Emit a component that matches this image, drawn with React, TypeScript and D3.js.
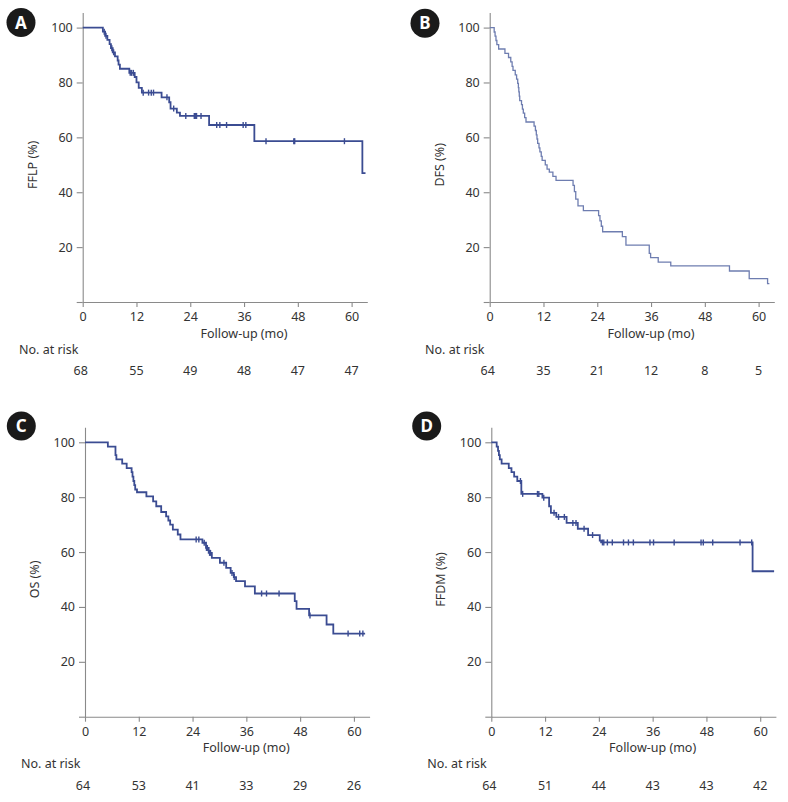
import { useEffect, useRef } from 'react'
import * as d3 from 'd3'

// axis ticks
const monthTicks = [0, 12, 24, 36, 48, 60]
const pctTicks = [0, 20, 40, 60, 80, 100]

// A: freedom from local progression
const fflpTimes = [0, 4.5, 5.0, 5.5, 6.0, 6.3, 6.7, 7.2, 7.8, 8.0, 8.3, 10.4, 11.6, 12.0, 12.5, 13.2, 17.6, 19.3, 19.6, 21.0, 21.7, 28.2, 38.3, 62.4]
const fflpSurv = [100, 98.5, 97.0, 95.5, 94.0, 92.5, 91.0, 89.5, 88.0, 86.5, 85.0, 83.5, 82.0, 80.0, 78.0, 76.3, 74.6, 72.8, 70.5, 69.0, 67.8, 64.5, 58.6, 47.0]
const fflpCensor = [4.8, 5.2, 6.5, 6.9, 10.6, 10.9, 11.3, 13.5, 14.7, 15.3, 15.8, 18.8, 20.3, 23.0, 24.9, 25.2, 25.4, 26.4, 29.9, 30.6, 32.1, 35.8, 36.4, 40.9, 47.1, 47.3, 58.4]
const fflpEnd = 63.1
const fflpRisk = [68, 55, 49, 48, 47, 47]

// B: disease-free survival
const dfsTimes = [0, 1.0, 1.2, 1.4, 1.6, 2.0, 3.4, 4.2, 4.7, 5.0, 5.2, 5.7, 6.0, 6.25, 6.4, 6.5, 6.6, 6.7, 7.1, 7.3, 7.5, 7.8, 8.1, 9.9, 10.2, 10.4, 10.55, 10.7, 11.0, 11.2, 11.5, 11.7, 12.4, 12.8, 13.3, 14.1, 14.8, 18.6, 18.9, 19.2, 19.7, 20.9, 24.3, 24.6, 24.9, 25.2, 29.6, 30.4, 35.6, 35.9, 37.6, 40.4, 53.5, 57.9, 62.0]
const dfsSurv = [100, 98.4, 96.9, 95.3, 93.8, 92.2, 90.6, 89.1, 87.5, 85.9, 84.4, 82.8, 81.2, 79.7, 78.1, 76.6, 75.0, 73.4, 71.9, 70.3, 68.8, 67.2, 65.6, 64.1, 62.5, 60.9, 59.4, 57.8, 56.2, 54.7, 53.1, 51.6, 50.0, 48.4, 47.3, 45.8, 44.3, 42.5, 40.2, 37.5, 35.0, 33.3, 31.5, 29.6, 27.6, 25.6, 23.8, 20.7, 17.7, 16.2, 14.5, 13.2, 11.3, 8.5, 6.7]
const dfsCensor: number[] = []
const dfsEnd = 62.4
const dfsRisk = [64, 35, 21, 12, 8, 5]

// C: overall survival
const osTimes = [0, 5.1, 6.8, 7.0, 8.3, 9.3, 10.4, 10.6, 10.8, 11.0, 11.2, 11.6, 13.7, 15.2, 15.9, 17.0, 18.1, 18.6, 19.0, 19.6, 20.7, 21.3, 26.2, 27.0, 27.6, 28.3, 30.1, 31.5, 32.5, 33.2, 33.7, 35.7, 37.9, 46.8, 47.2, 50.0, 53.9, 55.4]
const osSurv = [100, 98.4, 95.3, 93.8, 92.2, 90.6, 89.1, 87.5, 85.9, 84.4, 82.8, 81.8, 80.3, 78.5, 76.7, 74.6, 73.0, 71.5, 70.0, 68.2, 66.4, 64.6, 63.4, 61.5, 59.7, 57.9, 56.1, 54.2, 52.4, 50.9, 49.4, 47.5, 44.9, 42.1, 39.3, 36.9, 33.6, 30.3]
const osCensor = [24.8, 25.4, 26.6, 27.1, 27.3, 27.8, 28.0, 31.0, 32.8, 33.3, 39.4, 40.5, 43.3, 50.2, 58.7, 61.3, 62.0]
const osEnd = 62.5
const osRisk = [64, 53, 41, 33, 29, 26]

// D: freedom from distant metastasis
const ffdmTimes = [0, 1.2, 1.5, 1.7, 1.9, 2.3, 3.9, 4.5, 5.1, 5.8, 6.7, 11.4, 12.9, 13.3, 14.5, 16.8, 19.3, 21.6, 24.2, 24.5, 58.3]
const ffdmSurv = [100, 98.4, 96.9, 95.3, 93.8, 92.2, 90.6, 89.1, 87.5, 85.9, 81.2, 79.8, 76.7, 74.3, 72.8, 70.6, 68.5, 66.2, 64.2, 63.5, 53.0]
const ffdmCensor = [6.5, 7.0, 10.3, 10.6, 11.7, 14.0, 15.0, 16.3, 18.2, 18.9, 20.7, 22.6, 24.8, 25.1, 25.9, 27.0, 29.5, 30.6, 31.7, 35.4, 36.2, 40.8, 46.8, 47.3, 49.4, 55.5, 58.1]
const ffdmEnd = 63.1
const ffdmRisk = [64, 51, 44, 43, 43, 42]

const FONT = '"Noto Sans", Roboto, sans-serif'
const TEXT = '#333'
const AXIS = '#8a8a8a'

type PanelProps = {
  letter: string
  yLabel: string
  times: number[]
  surv: number[]
  censor: number[]
  end: number
  risk: number[]
  left: number
  bottom: number
  badge: [number, number]
  riskLabelX: number
  color: string
  lineWidth: number
}

function Panel(p: PanelProps) {
  const ref = useRef<SVGGElement>(null)

  useEffect(() => {
    if (!ref.current) return
    const g = d3.select(ref.current)
    g.selectAll('*').remove()

    const x = d3.scaleLinear().domain([0, 63.5]).range([p.left, p.left + 284.6])
    const y = d3.scaleLinear().domain([0, 105.5]).range([p.bottom, p.bottom - 289.5])

    // axes
    const xAxis = g
      .append('g')
      .attr('transform', `translate(0,${p.bottom})`)
      .call(d3.axisBottom(x).tickValues(monthTicks).tickSize(5).tickSizeOuter(0).tickPadding(5))
    const yAxis = g
      .append('g')
      .attr('transform', `translate(${p.left},0)`)
      .call(
        d3
          .axisLeft(y)
          .tickValues(pctTicks)
          .tickSize(6)
          .tickSizeOuter(0)
          .tickPadding(4)
          .tickFormat(d => (d === 0 ? '' : String(d)))
      )
    ;[xAxis, yAxis].forEach(a => {
      a.selectAll('path, line').attr('stroke', AXIS).attr('stroke-width', 1.1)
      a.selectAll('text').attr('fill', TEXT).style('font-family', FONT).style('font-size', '12.5px')
    })

    // survival curve
    const pts: [number, number][] = p.times.map((t, i) => [t, p.surv[i]])
    pts.push([p.end, p.surv[p.surv.length - 1]])
    const line = d3
      .line<[number, number]>()
      .x(d => x(d[0]))
      .y(d => y(d[1]))
      .curve(d3.curveStepAfter)
    g.append('path')
      .datum(pts)
      .attr('fill', 'none')
      .attr('stroke', p.color)
      .attr('stroke-width', p.lineWidth)
      .attr('d', line)

    // censor marks
    const survAt = (t: number) => {
      let s = p.surv[0]
      p.times.forEach((tt, i) => {
        if (tt <= t) s = p.surv[i]
      })
      return s
    }
    g.selectAll('.censor')
      .data(p.censor)
      .enter()
      .append('line')
      .attr('x1', d => x(d))
      .attr('x2', d => x(d))
      .attr('y1', d => y(survAt(d)) - 3)
      .attr('y2', d => y(survAt(d)) + 3)
      .attr('stroke', p.color)
      .attr('stroke-width', 1.4)

    // labels
    g.append('text')
      .attr('x', x(36))
      .attr('y', p.bottom + 35.5)
      .attr('text-anchor', 'middle')
      .attr('fill', TEXT)
      .style('font-family', FONT)
      .style('font-size', '12.5px')
      .text('Follow-up (mo)')

    g.append('text')
      .attr('transform', `translate(${p.left - 46},${y(50)}) rotate(-90)`)
      .attr('text-anchor', 'middle')
      .attr('fill', TEXT)
      .style('font-family', FONT)
      .style('font-size', '12.5px')
      .text(p.yLabel)

    g.append('text')
      .attr('x', p.riskLabelX)
      .attr('y', p.bottom + 51.5)
      .attr('fill', TEXT)
      .style('font-family', FONT)
      .style('font-size', '12.5px')
      .text('No. at risk')

    g.selectAll('.risk')
      .data(p.risk)
      .enter()
      .append('text')
      .attr('x', (_, i) => x(monthTicks[i]) - (i === 0 ? 2 : 0))
      .attr('y', p.bottom + 73)
      .attr('text-anchor', 'middle')
      .attr('fill', TEXT)
      .style('font-family', FONT)
      .style('font-size', '12.5px')
      .text(d => String(d))

    // panel badge
    g.append('circle')
      .attr('cx', p.badge[0])
      .attr('cy', p.badge[1])
      .attr('r', 14.5)
      .attr('fill', '#1a1a1a')
    g.append('text')
      .attr('x', p.badge[0])
      .attr('y', p.badge[1] + 6)
      .attr('text-anchor', 'middle')
      .attr('fill', '#fff')
      .style('font-family', FONT)
      .style('font-weight', 'bold')
      .style('font-size', '17px')
      .text(p.letter)
  }, [p])

  return <g ref={ref} />
}

export default function App() {
  useEffect(() => {
    document.body.style.margin = '0'
  }, [])

  return (
    <svg width={788} height={802} style={{ display: 'block', background: '#fff' }}>
      <Panel letter="A" yLabel="FFLP (%)" times={fflpTimes} surv={fflpSurv} censor={fflpCensor} end={fflpEnd} risk={fflpRisk}
        left={82.7} bottom={302} badge={[21, 22.5]} riskLabelX={19} color="#3b4c92" lineWidth={1.8} />
      <Panel letter="B" yLabel="DFS (%)" times={dfsTimes} surv={dfsSurv} censor={dfsCensor} end={dfsEnd} risk={dfsRisk}
        left={489.7} bottom={302} badge={[425, 23.3]} riskLabelX={425} color="#6e7db0" lineWidth={1.3} />
      <Panel letter="C" yLabel="OS (%)" times={osTimes} surv={osSurv} censor={osCensor} end={osEnd} risk={osRisk}
        left={85} bottom={716.7} badge={[21.3, 426]} riskLabelX={21} color="#3b4c92" lineWidth={1.8} />
      <Panel letter="D" yLabel="FFDM (%)" times={ffdmTimes} surv={ffdmSurv} censor={ffdmCensor} end={ffdmEnd} risk={ffdmRisk}
        left={491.3} bottom={716.7} badge={[426.7, 426]} riskLabelX={427.3} color="#3b4c92" lineWidth={1.8} />
    </svg>
  )
}
